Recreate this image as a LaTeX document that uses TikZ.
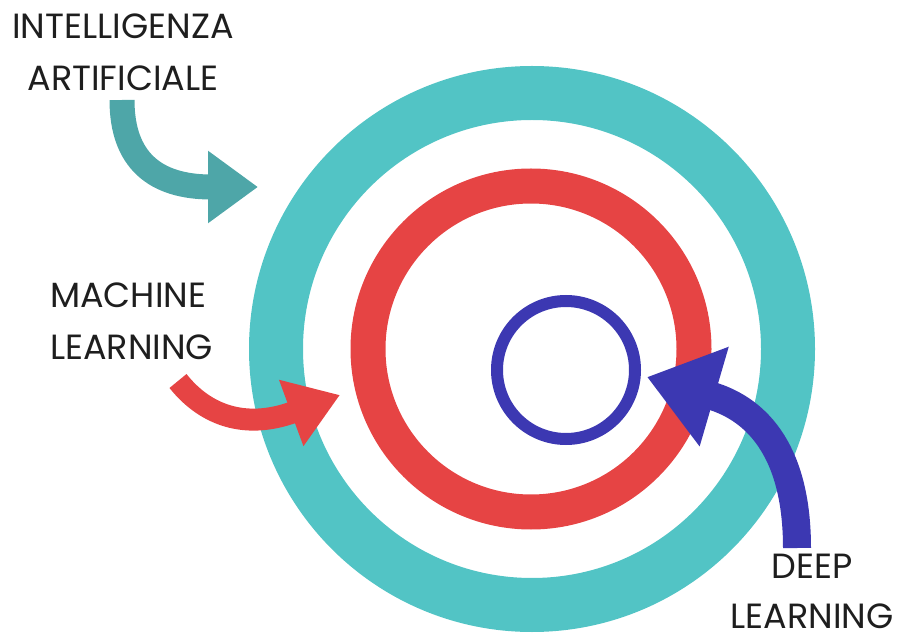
\documentclass[tikz,border=0pt]{standalone}
\usepackage{fontspec}
\setmainfont{Poppins}
\usetikzlibrary{arrows.meta}
\definecolor{ringteal}{RGB}{82,196,197}
\definecolor{arrowteal}{RGB}{78,166,168}
\definecolor{ringred}{RGB}{230,68,68}
\definecolor{ringblue}{RGB}{60,56,178}
\definecolor{labeltext}{RGB}{30,30,30}
\tikzset{
  lbl/.style={inner sep=0pt, text=labeltext, font=\fontsize{35}{52}\selectfont},
  ring/.style={draw, fill=none},
  aiarrow/.style={draw=arrowteal, line width=25pt, -{Triangle[length=50pt,width=69pt]}},
  mlarrow/.style={draw=ringred, line width=22pt, -{Triangle[length=52pt,width=67pt]}},
  dlarrow/.style={draw=ringblue, line width=28pt, -{Triangle[length=70pt,width=99pt]}},
}
\begin{document}
\begin{tikzpicture}[x=1pt,y=-1pt]
\useasboundingbox (0,0) rectangle (900,644);
% rings
\draw[ring, ringteal, line width=54pt] (532,349) circle (256);
\draw[ring, ringred, line width=35pt] (531,349) circle (163);
\draw[ring, ringblue, line width=12pt] (566,370) circle (69);
% labels
\node[lbl, align=center] (ai) at (123,52) {INTELLIGENZA\\ARTIFICIALE};
\node[lbl, align=left, anchor=west] (ml) at (50,321) {MACHINE\\LEARNING};
\node[lbl, align=center, font=\fontsize{35}{50}\selectfont] (dl) at (812,591) {DEEP\\LEARNING};
% arrow anchor points
\coordinate (aiTail) at (122,100);
\coordinate (aiTip) at (258,187);
\coordinate (mlTail) at (178,381);
\coordinate (mlTip) at (340,395);
\coordinate (dlTail) at (797,548);
\coordinate (dlTip) at (647,377);
% arrows
\draw[aiarrow] (aiTail) .. controls (122,160) and (155,187) .. (aiTip);
\draw[mlarrow] (mlTail) .. controls (205,415) and (245,430) .. (mlTip);
\draw[dlarrow] (dlTail) .. controls (797,455) and (760,410) .. (dlTip);
\end{tikzpicture}
\end{document}
